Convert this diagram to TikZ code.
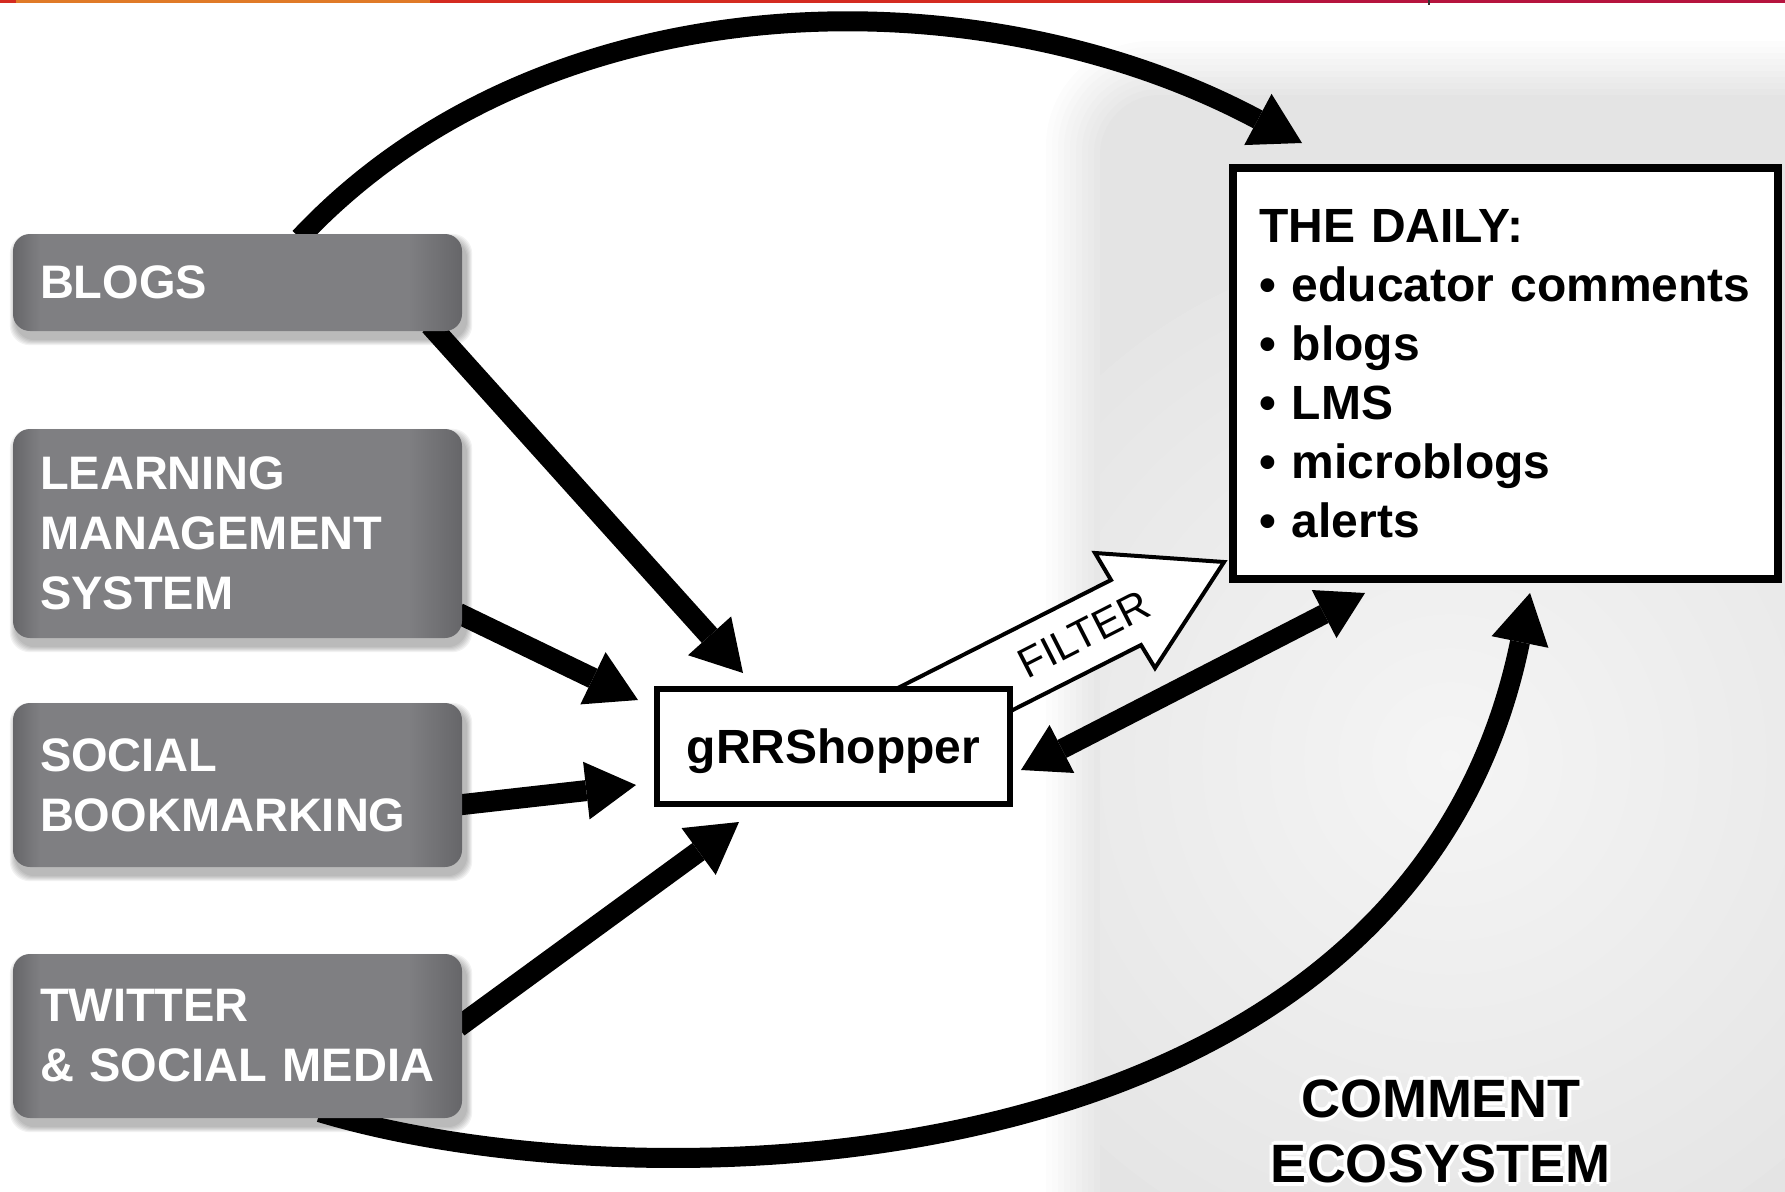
\documentclass[tikz,border=0pt]{standalone}
\usepackage{fontspec}
\setmainfont{Liberation Sans}
\usetikzlibrary{arrows.meta}
\definecolor{boxmid}{RGB}{127,127,130}
\definecolor{boxedge}{RGB}{102,102,105}
\definecolor{striporange}{RGB}{224,122,40}
\definecolor{stripred}{RGB}{212,42,32}
\definecolor{stripcrimson}{RGB}{182,20,62}
\pgfdeclarehorizontalshading{boxshade}{100bp}{color(0bp)=(boxedge); color(25bp)=(boxedge); color(28bp)=(boxmid); color(69bp)=(boxmid); color(75bp)=(boxedge); color(100bp)=(boxedge)}
\pgfdeclarelayer{regionlayer}
\pgfdeclarelayer{shadowlayer}
\pgfdeclarelayer{arrowlayer}
\pgfsetlayers{regionlayer,shadowlayer,arrowlayer,main}
\newcommand{\halo}[1]{%
  \foreach \hang in {0,45,...,315}{%
    \pgfmathsetmacro{\hx}{4*cos(\hang)}%
    \pgfmathsetmacro{\hy}{4*sin(\hang)}%
    \rlap{\hspace*{\hx pt}\raisebox{\hy pt}{\color{white}#1}}%
  }#1}
\begin{document}
\begin{tikzpicture}[x=1pt,y=-1pt,
  srcbox/.style={shade, shading=boxshade, rounded corners=17pt, minimum width=449pt,
    text width=395pt, inner xsep=27pt, inner ysep=0pt, align=left, text=white,
    font=\fontsize{47}{60}\selectfont\bfseries},
  whitebox/.style={draw, fill=white, inner sep=0pt},
  feed/.style={line width=21pt, -{Triangle[length=50pt,width=58pt,line width=0pt]}},
  arcarrow/.style={line width=20pt, -{Triangle[length=50pt,width=58pt,line width=0pt]}},
  twoway/.style={line width=20pt, {Triangle[length=46pt,width=54pt,line width=0pt]}-{Triangle[length=46pt,width=54pt,line width=0pt]}},
  blockarrow/.style={draw, fill=white, line width=4pt, line join=miter}
]
\useasboundingbox (0,0) rectangle (1785,1191);

% ---------- nodes ----------
\node[srcbox, minimum height=97pt]  (blogs)   at (237.5,282.5) {BLOGS};
\node[srcbox, minimum height=209pt] (lms)     at (237.5,533.5) {LEARNING\\MANAGEMENT\\SYSTEM};
\node[srcbox, minimum height=164pt] (social)  at (237.5,785)   {SOCIAL\\BOOKMARKING};
\node[srcbox, minimum height=164pt] (twitter) at (237.5,1036)  {TWITTER\\\&~SOCIAL MEDIA};

\node[whitebox, line width=6pt, minimum width=353pt, minimum height=115pt,
      font=\fontsize{48}{58}\selectfont\bfseries, text depth=0pt] (grr) at (833.5,746.5) {gRRShopper};

\node[whitebox, line width=8pt, minimum width=545pt, minimum height=411pt,
      text width=493pt, align=left, font=\fontsize{48}{59}\selectfont\bfseries] (daily) at (1505.5,373.5)
  {THE DAILY:\\• educator comments\\• blogs\\• LMS\\• microblogs\\• alerts};

\node[rotate=27, inner sep=0pt, font=\fontsize{42}{42}\selectfont] (filtertext) at (1084,634) {FILTER};

\node[inner sep=0pt, align=center, font=\fontsize{54}{65}\selectfont\bfseries] (eco) at (1440.5,1131)
  {\halo{COMMENT}\\\halo{ECOSYSTEM}};

% ---------- background region ----------
\begin{pgfonlayer}{regionlayer}
  \foreach \i in {1,...,10}{
    \pgfmathsetmacro{\shadeval}{2.1*\i}
    \fill[gray!\shadeval, rounded corners={(110-5*\i)*1pt}] (1040+6*\i,35+6*\i) rectangle (1900,1300);
  }
  \begin{scope}
    \clip[rounded corners=60pt] (1100,95) rectangle (1900,1300);
    \shade[inner color=gray!8, outer color=gray!20] (1450,760) circle[radius=520pt];
  \end{scope}
\end{pgfonlayer}

% ---------- shadows of the source boxes ----------
\begin{pgfonlayer}{shadowlayer}
  \foreach \n in {blogs,lms,social,twitter}{
    \foreach \i in {1,...,6}{
      \fill[black, opacity=0.05, rounded corners=20pt]
        ([shift={(3-\i,6-\i)}]\n.north west) rectangle ([shift={(4+\i,8+\i)}]\n.south east);
    }
  }
\end{pgfonlayer}

% ---------- connectors ----------
\begin{pgfonlayer}{arrowlayer}
  \draw[arcarrow] ([shift={(287,4)}]blogs.north west)
     .. controls +(243,-259) and +(-326,-174) .. ([shift={(73,-21)}]daily.north west);
  \draw[arcarrow] ([shift={(307,-6)}]twitter.south west)
     .. controls +(322,97) and +(-123,601) .. ([shift={(24.5,10)}]daily.south);
  \draw[feed] ([shift={(-32,-6)}]blogs.south east) -- ([shift={(89,-13)}]grr.north west);
  \draw[feed] ([shift={(-4,-25)}]lms.south east) -- ([shift={(-16,-46.5)}]grr.west);
  \draw[feed] ([shift={(-4,20)}]social.east) -- ([shift={(-18,38.5)}]grr.west);
  \draw[feed] ([shift={(-4,-9)}]twitter.east) -- ([shift={(85,15)}]grr.south west);
  \draw[twoway] ([shift={(8,23.5)}]grr.east) -- ([shift={(136,10)}]daily.south west);
  \draw[blockarrow] (886,694) -- (1111,580) -- (1095,553) -- (1224,562) -- (1155,668)
     -- (1141,645) -- (995,719) -- cycle;
\end{pgfonlayer}

% ---------- top colour strip ----------
\fill[stripred] (0,0) rectangle (16,2.5);
\fill[striporange] (16,0) rectangle (430,2.5);
\fill[stripred] (430,0) rectangle (1160,2.5);
\fill[stripcrimson] (1160,0) rectangle (1785,2.5);
\fill[black!80] (1428,0) rectangle (1430,5);
\end{tikzpicture}
\end{document}
